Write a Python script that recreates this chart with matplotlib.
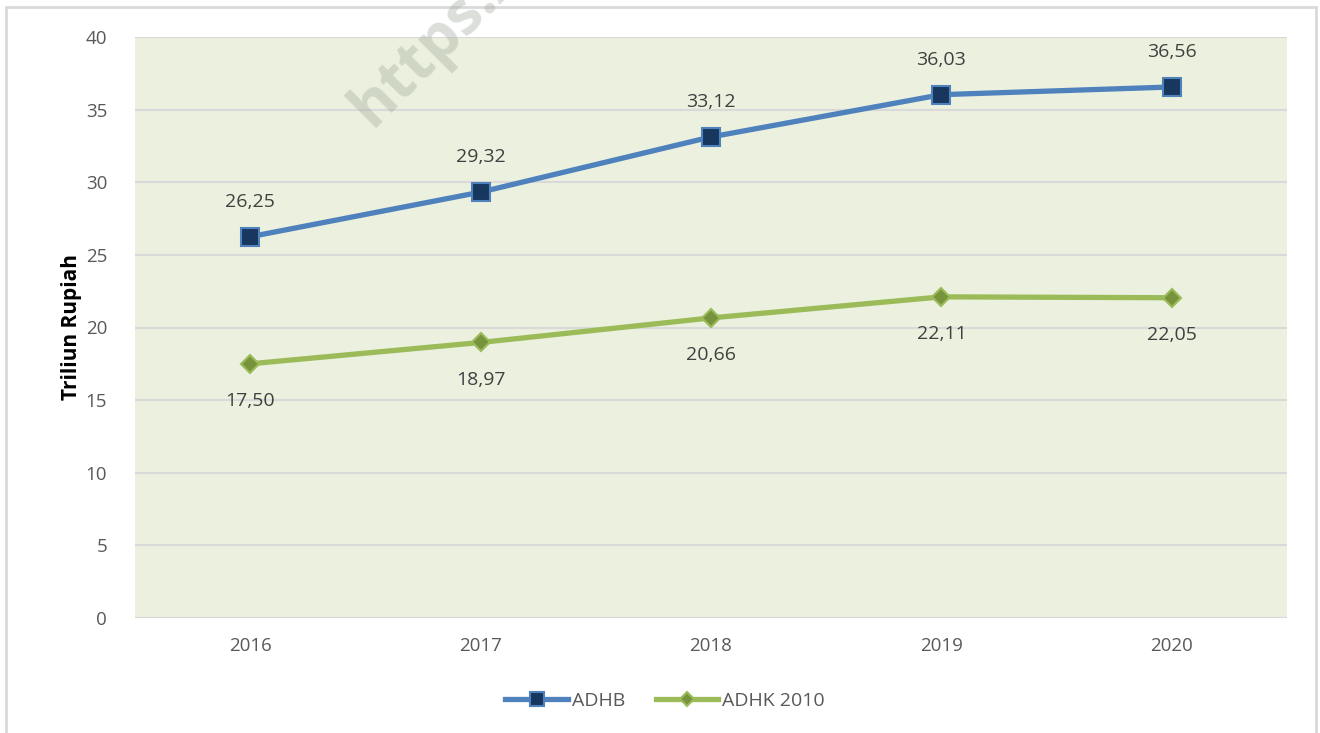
import matplotlib
matplotlib.use('Agg')
import matplotlib.pyplot as plt
from matplotlib.patches import Rectangle

plt.rcParams['font.family'] = ['Open Sans', 'DejaVu Sans']

# data
years = ['2016', '2017', '2018', '2019', '2020']
adhb = [26.25, 29.32, 33.12, 36.03, 36.56]
adhk = [17.50, 18.97, 20.66, 22.11, 22.05]
yticks = [0, 5, 10, 15, 20, 25, 30, 35, 40]

W, H = 1320, 733
fig = plt.figure(figsize=(W / 100, H / 100), dpi=100)
fig.patch.set_facecolor('white')

# outer chart border
fig.patches.append(Rectangle((6 / W, -0.05), (1316 - 6) / W, 1.05 - 7 / H,
                             transform=fig.transFigure, fill=False,
                             edgecolor='#D9D9D9', linewidth=2))

ax = fig.add_axes([135 / W, 1 - 618 / H, (1287 - 135) / W, (618 - 37) / H])
ax.set_facecolor('#EBF1DE')
for s in ax.spines.values():
    s.set_visible(False)

x = list(range(len(years)))
ax.plot(x, adhb, color='#4F81BD', lw=3.8, marker='s', ms=13,
        mfc='#17375E', mec='#4F81BD', mew=1.5, label='ADHB', zorder=3)
ax.plot(x, adhk, color='#9BBB59', lw=3.8, marker='D', ms=9,
        mfc='#77933C', mec='#9BBB59', mew=1.5, label='ADHK 2010', zorder=3)

for i in x:
    ax.annotate(f'{adhb[i]:.2f}'.replace('.', ','), (i, adhb[i]),
                xytext=(0, 25), textcoords='offset points', ha='center',
                va='center', fontsize=14, color='#404040')
    ax.annotate(f'{adhk[i]:.2f}'.replace('.', ','), (i, adhk[i]),
                xytext=(0, -27), textcoords='offset points', ha='center',
                va='center', fontsize=14, color='#404040')

ax.set_xlim(-0.5, 4.5)
ax.set_ylim(0, 40)
ax.set_yticks(yticks)
ax.set_xticks(x)
ax.set_xticklabels(years)
ax.tick_params(length=0, labelsize=13.5, colors='#595959')
ax.tick_params(axis='y', pad=20)
ax.tick_params(axis='x', pad=14)
ax.yaxis.grid(True, color='#D9D9D9', lw=1.5)
ax.set_axisbelow(True)
ax.set_ylabel('Triliun Rupiah', fontsize=15, fontweight='bold', color='black', labelpad=3)

fig.legend(loc='center', bbox_to_anchor=(665 / W, 1 - 701 / H), ncol=2, frameon=False,
           fontsize=14, handlelength=3.2, handletextpad=0.2, columnspacing=1.6,
           labelcolor='#595959', markerscale=0.8)

# watermark
fig.text(372 / W, 1 - 128 / H, 'https://', rotation=45, rotation_mode='anchor',
         ha='left', va='baseline', fontsize=44, fontweight='bold',
         color='#A8AFA0', alpha=0.4)

fig.savefig('out.png', dpi=100)
